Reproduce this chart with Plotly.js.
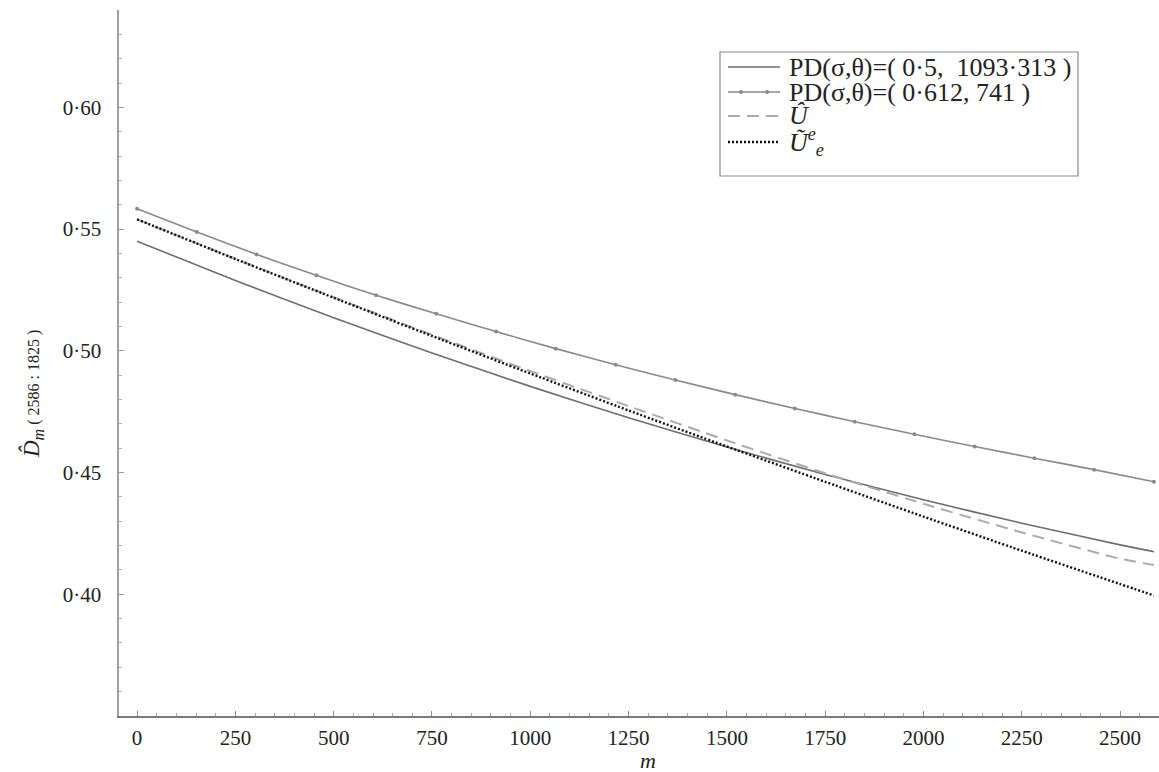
<!DOCTYPE html>
<html>
<head>
<meta charset="utf-8">
<script src="https://cdn.plot.ly/plotly-3.0.1.min.js"></script>
<style>html,body{margin:0;padding:0;background:#fff;}#chart{width:1159px;height:772px;}</style>
</head>
<body>
<div id="chart"></div>
<script>
// ---- data ----
const mGrid = [0, 250, 500, 750, 1000, 1250, 1500, 1750, 2000, 2250, 2500, 2586];
const pd05 = [0.545, 0.5289, 0.5136, 0.4991, 0.4854, 0.4725, 0.4605, 0.4492, 0.4388, 0.4292, 0.4203, 0.4175];
const uHat = [0.554, 0.5378, 0.522, 0.5066, 0.4917, 0.4773, 0.4632, 0.4497, 0.4372, 0.4254, 0.4146, 0.412];
const uTilde = [0.554, 0.5377, 0.5218, 0.5061, 0.4907, 0.4755, 0.4607, 0.4462, 0.4319, 0.4179, 0.4042, 0.3995];

const mMark = [0, 152, 304, 456, 608, 761, 913, 1065, 1217, 1369, 1521, 1673, 1825, 1977, 2130, 2282, 2434, 2586];
const pd0612 = [0.5584, 0.5488, 0.5396, 0.531, 0.5228, 0.5152, 0.5079, 0.5009, 0.4943, 0.488, 0.482, 0.4763, 0.4709, 0.4657, 0.4607, 0.4559, 0.4512, 0.4462];

const seriesNames = [
  "PD(σ,θ)=( 0·5,  1093·313 )",
  "PD(σ,θ)=( 0·612, 741 )",
  "<i>Û</i>",
  "<i>Ũ</i><sup><i>e</i></sup><sub><i>e</i></sub>"
];

const xTickVals = [0, 250, 500, 750, 1000, 1250, 1500, 1750, 2000, 2250, 2500];
const xTickText = ["0", "250", "500", "750", "1000", "1250", "1500", "1750", "2000", "2250", "2500"];
const yTickVals = [0.40, 0.45, 0.50, 0.55, 0.60];
const yTickText = ["0·40", "0·45", "0·50", "0·55", "0·60"];

const FONT = "'Liberation Serif', 'Times New Roman', serif";

const styles = [
  {color: "#6e6e6e", width: 1.6, dash: "solid"},
  {color: "#8a8a8a", width: 1.6, dash: "solid"},
  {color: "#ababab", width: 2, dash: "12px,7px"},
  {color: "#111111", width: 2.4, dash: "2px,2px"}
];

const traces = [
  {x: mGrid, y: pd05, name: seriesNames[0], mode: "lines",
   line: Object.assign({shape: "spline", smoothing: 0.6}, styles[0])},
  {x: mMark, y: pd0612, name: seriesNames[1], mode: "lines+markers",
   line: Object.assign({shape: "spline", smoothing: 0.6}, styles[1]),
   marker: {color: "#8a8a8a", size: 4}},
  {x: mGrid, y: uHat, name: seriesNames[2], mode: "lines",
   line: Object.assign({shape: "spline", smoothing: 0.6}, styles[2])},
  {x: mGrid, y: uTilde, name: seriesNames[3], mode: "lines",
   line: Object.assign({shape: "spline", smoothing: 0.6}, styles[3])}
];

// ---- hand-built legend (reference packs its rows tightly) ----
const plotL = 119, plotW = 1040, plotT = 10, plotH = 706;
const px2x = p => (p - plotL) / plotW;
const py2y = p => (plotT + plotH - p) / plotH;

const legBox = {l: 720, r: 1078, t: 52, b: 176};
const rowY = [67, 92, 116, 142];
const sampleL = 728, sampleR = 780, textL = 787;

const shapes = [
  {type: "rect", xref: "paper", yref: "paper",
   x0: px2x(legBox.l), x1: px2x(legBox.r), y0: py2y(legBox.b), y1: py2y(legBox.t),
   line: {color: "#8a8a8a", width: 1.2}, fillcolor: "#fff", layer: "above"}
];
const annotations = [];
seriesNames.forEach((nm, i) => {
  shapes.push({type: "line", xref: "paper", yref: "paper",
    x0: px2x(sampleL), x1: px2x(sampleR), y0: py2y(rowY[i]), y1: py2y(rowY[i]),
    line: {color: styles[i].color, width: styles[i].width, dash: styles[i].dash}, layer: "above"});
  annotations.push({xref: "paper", yref: "paper", x: px2x(textL), y: py2y(rowY[i]),
    xanchor: "left", yanchor: "middle", showarrow: false, text: nm,
    font: {family: FONT, size: 26, color: "#222"}});
});
[741, 767].forEach(cx => {
  shapes.push({type: "circle", xref: "paper", yref: "paper",
    xsizemode: "pixel", ysizemode: "pixel", xanchor: px2x(cx), yanchor: py2y(rowY[1]),
    x0: -2, x1: 2, y0: -2, y1: 2, line: {width: 0}, fillcolor: "#8a8a8a", layer: "above"});
});

annotations.push(
  {xref: "paper", yref: "paper", x: 0.509, y: py2y(760), xanchor: "center", yanchor: "middle",
   showarrow: false, text: "<i>m</i>", font: {family: FONT, size: 22, color: "#222"}},
  {xref: "paper", yref: "paper", x: px2x(32), y: py2y(394), xanchor: "center", yanchor: "middle",
   showarrow: false, textangle: -90,
   text: "<i>D̂</i><sub><i>m</i></sub><span style='font-size:16px'> ( 2586 : 1825 )</span>",
   font: {family: FONT, size: 23, color: "#222"}}
);

const layout = {
  width: 1159, height: 772,
  margin: {l: 119, r: 0, t: 10, b: 56},
  paper_bgcolor: "#fff", plot_bgcolor: "#fff",
  font: {family: FONT, color: "#222", size: 21},
  showlegend: false,
  xaxis: {
    range: [-46, 2599], showgrid: false, zeroline: false,
    showline: true, linecolor: "#7a7a7a", linewidth: 1.6,
    tickmode: "array", tickvals: xTickVals, ticktext: xTickText,
    ticks: "inside", ticklen: 5, tickcolor: "#8a8a8a", tickwidth: 1,
    ticklabelstandoff: 2,
    tickfont: {family: FONT, size: 21, color: "#222"},
    minor: {ticks: "inside", tick0: 0, dtick: 50, ticklen: 3, tickcolor: "#aaa", tickwidth: 1}
  },
  yaxis: {
    range: [0.35, 0.64], showgrid: false, zeroline: false,
    showline: true, linecolor: "#a0a0a0", linewidth: 1.6,
    tickmode: "array", tickvals: yTickVals, ticktext: yTickText,
    ticks: "inside", ticklen: 5, tickcolor: "#9a9a9a", tickwidth: 1,
    ticklabelstandoff: 12,
    tickfont: {family: FONT, size: 21, color: "#222"},
    minor: {ticks: "inside", tick0: 0.35, dtick: 0.01, ticklen: 3, tickcolor: "#aaa", tickwidth: 1}
  },
  shapes: shapes,
  annotations: annotations
};

Plotly.newPlot("chart", traces, layout, {staticPlot: true, displayModeBar: false});
</script>
</body>
</html>
